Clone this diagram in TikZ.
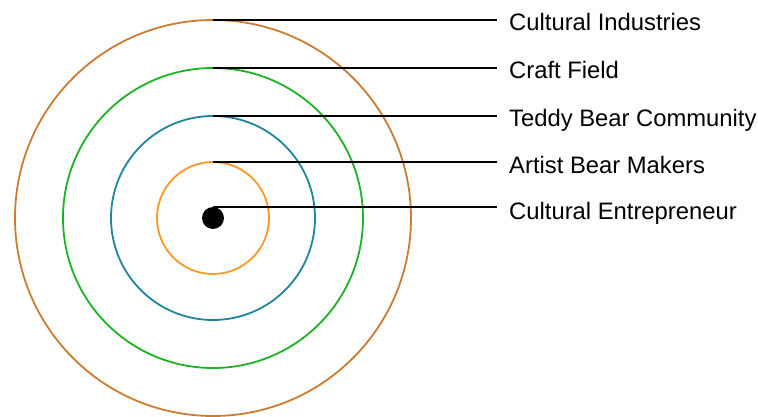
\documentclass[tikz,border=0pt]{standalone}
\usepackage{fontspec}
\setmainfont{Liberation Sans}
\definecolor{ringA}{RGB}{204,124,48}
\definecolor{ringB}{RGB}{28,178,36}
\definecolor{ringC}{RGB}{30,134,156}
\definecolor{ringD}{RGB}{255,150,40}
\begin{document}
\begin{tikzpicture}[x=1pt,y=-1pt,
  ring/.style={circle, draw, line width=1.8pt, inner sep=0pt, outer sep=0pt, minimum size=#1},
  lead/.style={draw=black, line width=1.3pt},
  lbl/.style={anchor=base west, inner sep=0pt, font=\fontsize{23.8}{28}\selectfont}]
\useasboundingbox (0,0) rectangle (758,417);
\node[ring=396pt, draw=ringA] (c1) at (213,218) {};
\node[ring=300pt, draw=ringB] (c2) at (213,218) {};
\node[ring=204pt, draw=ringC] (c3) at (213,218) {};
\node[ring=112pt, draw=ringD] (c4) at (213,218) {};
\node[circle, fill=black, inner sep=0pt, outer sep=0pt, minimum size=22pt] (dot) at (213,218) {};
\node[lbl] (l1) at (509,31) {Cultural Industries};
\node[lbl] (l2) at (509,79) {Craft Field};
\node[lbl] (l3) at (509,127) {Teddy Bear Community};
\node[lbl] (l4) at (509,174) {Artist Bear Makers};
\node[lbl] (l5) at (509,219) {Cultural Entrepreneur};
\coordinate (e1) at (497,20);
\coordinate (e2) at (497,68);
\coordinate (e3) at (497,116);
\coordinate (e4) at (497,162);
\coordinate (e5) at (497,207);
\draw[lead] (c1.north) -- (e1);
\draw[lead] (c2.north) -- (e2);
\draw[lead] (c3.north) -- (e3);
\draw[lead] (c4.north) -- (e4);
\draw[lead] (dot.north) -- (e5);
\end{tikzpicture}
\end{document}
